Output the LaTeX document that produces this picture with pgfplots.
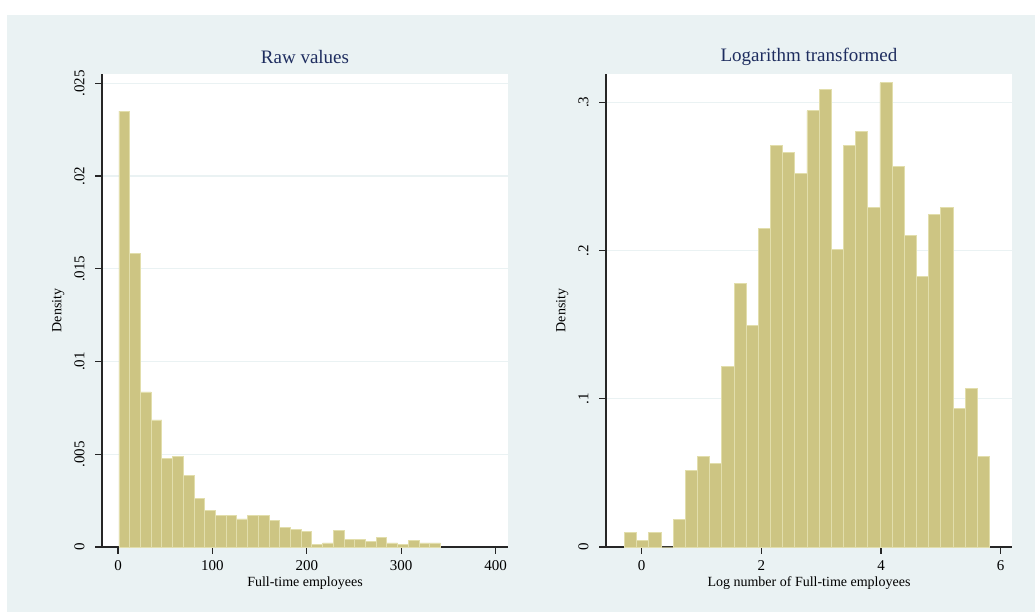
\documentclass[border=0pt]{standalone}
\usepackage{pgfplots}
\pgfplotsset{compat=1.18}
\usepackage{fontspec}
\setmainfont{Liberation Serif}
\definecolor{bgc}{RGB}{234,242,243}
\definecolor{barfill}{RGB}{205,197,131}
\definecolor{bardraw}{RGB}{226,222,172}
\definecolor{titlec}{RGB}{30,45,95}
\pgfplotsset{
  stata/.style={
    scale only axis,
    width=406pt, height=473pt,
    anchor=south west,
    axis x line*=bottom, axis y line*=left,
    axis line style={line width=1.3pt, black!85},
    axis background/.style={fill=white},
    tick align=outside,
    major tick length=7pt,
    every tick/.style={black!85, line width=1.1pt},
    ymajorgrids,
    major grid style={color=bgc, line width=1.2pt},
    enlargelimits=false,
    ymin=0,
    scaled y ticks=false, scaled x ticks=false,
    x tick label as interval=false,
    xticklabel shift=3pt,
    yticklabel shift=7pt,
    xticklabel style={font=\fontsize{15}{18}\selectfont, anchor=north},
    yticklabel style={font=\fontsize{15}{18}\selectfont, rotate=90, anchor=south},
    every axis title/.style={font=\fontsize{19}{22}\selectfont, text=titlec, at={(axis description cs:0.5,1)}, anchor=center, yshift=17pt},
    every axis x label/.style={at={(axis description cs:0.5,0)}, anchor=center, yshift=-36pt, font=\fontsize{14}{16}\selectfont},
    every axis y label/.style={at={(axis description cs:-0.108,0.5)}, anchor=center, rotate=90, font=\fontsize{14}{16}\selectfont},
    clip=false,
  }
}
\begin{document}
\begin{tikzpicture}[x=1pt,y=1pt]
\fill[white] (0,0) rectangle (1035,612);
\fill[bgc] (7,0) rectangle (1035,597);
\begin{axis}[stata, at={(102pt,65pt)},
  xmin=-16.95, xmax=413.1, ymax=0.0255,
  xtick={0,100,200,300,400}, xticklabels={0,100,200,300,400},
  ytick={0,0.005,0.01,0.015,0.02,0.025},
  yticklabels={0,.005,.01,.015,.02,.025},
  title={Raw values}, xlabel={Full-time employees}, ylabel={Density}]
\addplot[ybar interval, fill=barfill, draw=bardraw, line width=0.8pt] coordinates {
(1,0.0235) (12.35,0.01584) (23.7,0.00836) (35.05,0.00685) (46.4,0.00479)
(57.75,0.00488) (69.1,0.00386) (80.45,0.00263) (91.8,0.00198) (103.15,0.00171)
(114.5,0.00171) (125.85,0.00151) (137.2,0.00171) (148.55,0.00171) (159.9,0.00142)
(171.25,0.00105) (182.6,0.00097) (193.95,0.00085) (205.3,0.00012) (216.65,0.00022)
(228,0.00087) (239.35,0.00040) (250.7,0.00040) (262.05,0.00031) (273.4,0.00050)
(284.75,0.00022) (296.1,0.00012) (307.45,0.00033) (318.8,0.00022) (330.15,0.00022)
(341.5,0)
};
\end{axis}
\begin{axis}[stata, at={(606pt,65pt)},
  xmin=-0.597, xmax=6.19, ymax=0.3191,
  xtick={0,2,4,6}, xticklabels={0,2,4,6},
  ytick={0,0.1,0.2,0.3},
  yticklabels={0,.1,.2,.3},
  title={Logarithm transformed}, xlabel={Log number of Full-time employees}, ylabel={Density}]
\addplot[ybar interval, fill=barfill, draw=bardraw, line width=0.8pt] coordinates {
(-0.287,0.0096) (-0.0837,0.0047) (0.1196,0.0096) (0.3229,0) (0.5262,0.0188)
(0.7295,0.0516) (0.9328,0.0608) (1.1361,0.0563) (1.3394,0.1215) (1.5427,0.1775)
(1.746,0.1495) (1.9493,0.2149) (2.1526,0.2709) (2.3559,0.2664) (2.5592,0.2522)
(2.7625,0.2942) (2.9658,0.3084) (3.1691,0.2009) (3.3724,0.2709) (3.5757,0.2803)
(3.779,0.2291) (3.9823,0.3131) (4.1856,0.2569) (4.3889,0.2104) (4.5922,0.1823)
(4.7955,0.2243) (4.9988,0.2291) (5.2021,0.0933) (5.4054,0.1072) (5.6087,0.0608)
(5.812,0)
};
\end{axis}
\end{tikzpicture}
\end{document}
